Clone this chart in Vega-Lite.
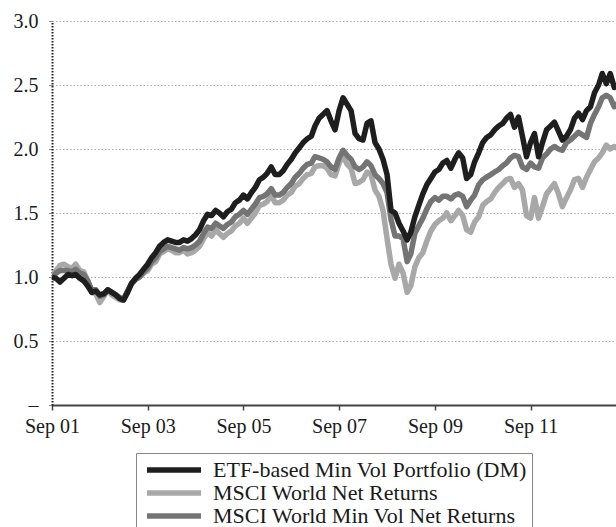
{
"$schema": "https://vega.github.io/schema/vega-lite/v6.json",
"width": 564, "height": 384,
"autosize": {"type": "none"},
"padding": {"left": 52, "top": 21, "right": 0, "bottom": 122},
"background": "white",
"config": {"view": {"stroke": null}, "font": "Liberation Serif"},
"data": {"values": [
{"d":"2001-09-01","world":1.00,"minvol":1.00,"etf":1.00},
{"d":"2001-10-01","world":1.05,"minvol":1.03,"etf":0.99},
{"d":"2001-11-01","world":1.09,"minvol":1.05,"etf":0.96},
{"d":"2001-12-01","world":1.10,"minvol":1.05,"etf":0.99},
{"d":"2002-01-01","world":1.08,"minvol":1.05,"etf":1.02},
{"d":"2002-02-01","world":1.07,"minvol":1.04,"etf":1.01},
{"d":"2002-03-01","world":1.10,"minvol":1.06,"etf":1.02},
{"d":"2002-04-01","world":1.05,"minvol":1.03,"etf":0.99},
{"d":"2002-05-01","world":1.04,"minvol":1.02,"etf":0.97},
{"d":"2002-06-01","world":0.97,"minvol":0.97,"etf":0.93},
{"d":"2002-07-01","world":0.88,"minvol":0.90,"etf":0.88},
{"d":"2002-08-01","world":0.87,"minvol":0.90,"etf":0.89},
{"d":"2002-09-01","world":0.80,"minvol":0.85,"etf":0.86},
{"d":"2002-10-01","world":0.85,"minvol":0.86,"etf":0.87},
{"d":"2002-11-01","world":0.90,"minvol":0.90,"etf":0.90},
{"d":"2002-12-01","world":0.86,"minvol":0.88,"etf":0.88},
{"d":"2003-01-01","world":0.84,"minvol":0.86,"etf":0.86},
{"d":"2003-02-01","world":0.82,"minvol":0.84,"etf":0.83},
{"d":"2003-03-01","world":0.82,"minvol":0.83,"etf":0.82},
{"d":"2003-04-01","world":0.89,"minvol":0.89,"etf":0.88},
{"d":"2003-05-01","world":0.95,"minvol":0.95,"etf":0.95},
{"d":"2003-06-01","world":0.98,"minvol":0.98,"etf":0.99},
{"d":"2003-07-01","world":1.00,"minvol":1.00,"etf":1.02},
{"d":"2003-08-01","world":1.03,"minvol":1.04,"etf":1.06},
{"d":"2003-09-01","world":1.05,"minvol":1.07,"etf":1.10},
{"d":"2003-10-01","world":1.10,"minvol":1.12,"etf":1.15},
{"d":"2003-11-01","world":1.12,"minvol":1.15,"etf":1.19},
{"d":"2003-12-01","world":1.18,"minvol":1.20,"etf":1.24},
{"d":"2004-01-01","world":1.20,"minvol":1.22,"etf":1.27},
{"d":"2004-02-01","world":1.22,"minvol":1.24,"etf":1.29},
{"d":"2004-03-01","world":1.21,"minvol":1.23,"etf":1.28},
{"d":"2004-04-01","world":1.19,"minvol":1.22,"etf":1.27},
{"d":"2004-05-01","world":1.19,"minvol":1.21,"etf":1.27},
{"d":"2004-06-01","world":1.21,"minvol":1.23,"etf":1.29},
{"d":"2004-07-01","world":1.18,"minvol":1.22,"etf":1.28},
{"d":"2004-08-01","world":1.19,"minvol":1.23,"etf":1.30},
{"d":"2004-09-01","world":1.21,"minvol":1.25,"etf":1.33},
{"d":"2004-10-01","world":1.24,"minvol":1.28,"etf":1.37},
{"d":"2004-11-01","world":1.30,"minvol":1.34,"etf":1.44},
{"d":"2004-12-01","world":1.35,"minvol":1.39,"etf":1.49},
{"d":"2005-01-01","world":1.32,"minvol":1.38,"etf":1.48},
{"d":"2005-02-01","world":1.37,"minvol":1.42,"etf":1.52},
{"d":"2005-03-01","world":1.34,"minvol":1.40,"etf":1.50},
{"d":"2005-04-01","world":1.31,"minvol":1.38,"etf":1.47},
{"d":"2005-05-01","world":1.34,"minvol":1.41,"etf":1.51},
{"d":"2005-06-01","world":1.36,"minvol":1.43,"etf":1.53},
{"d":"2005-07-01","world":1.40,"minvol":1.47,"etf":1.58},
{"d":"2005-08-01","world":1.42,"minvol":1.49,"etf":1.60},
{"d":"2005-09-01","world":1.46,"minvol":1.52,"etf":1.64},
{"d":"2005-10-01","world":1.42,"minvol":1.49,"etf":1.61},
{"d":"2005-11-01","world":1.46,"minvol":1.53,"etf":1.66},
{"d":"2005-12-01","world":1.50,"minvol":1.57,"etf":1.70},
{"d":"2006-01-01","world":1.56,"minvol":1.62,"etf":1.76},
{"d":"2006-02-01","world":1.57,"minvol":1.63,"etf":1.78},
{"d":"2006-03-01","world":1.59,"minvol":1.65,"etf":1.81},
{"d":"2006-04-01","world":1.64,"minvol":1.69,"etf":1.86},
{"d":"2006-05-01","world":1.58,"minvol":1.64,"etf":1.80},
{"d":"2006-06-01","world":1.58,"minvol":1.64,"etf":1.80},
{"d":"2006-07-01","world":1.60,"minvol":1.66,"etf":1.83},
{"d":"2006-08-01","world":1.64,"minvol":1.70,"etf":1.88},
{"d":"2006-09-01","world":1.66,"minvol":1.73,"etf":1.92},
{"d":"2006-10-01","world":1.71,"minvol":1.78,"etf":1.97},
{"d":"2006-11-01","world":1.73,"minvol":1.81,"etf":2.01},
{"d":"2006-12-01","world":1.77,"minvol":1.85,"etf":2.05},
{"d":"2007-01-01","world":1.80,"minvol":1.88,"etf":2.08},
{"d":"2007-02-01","world":1.81,"minvol":1.89,"etf":2.10},
{"d":"2007-03-01","world":1.86,"minvol":1.94,"etf":2.18},
{"d":"2007-04-01","world":1.87,"minvol":1.93,"etf":2.24},
{"d":"2007-05-01","world":1.87,"minvol":1.92,"etf":2.27},
{"d":"2007-06-01","world":1.85,"minvol":1.90,"etf":2.30},
{"d":"2007-07-01","world":1.80,"minvol":1.86,"etf":2.22},
{"d":"2007-08-01","world":1.79,"minvol":1.84,"etf":2.15},
{"d":"2007-09-01","world":1.89,"minvol":1.93,"etf":2.30},
{"d":"2007-10-01","world":1.95,"minvol":1.99,"etf":2.40},
{"d":"2007-11-01","world":1.88,"minvol":1.95,"etf":2.35},
{"d":"2007-12-01","world":1.85,"minvol":1.92,"etf":2.30},
{"d":"2008-01-01","world":1.73,"minvol":1.86,"etf":2.12},
{"d":"2008-02-01","world":1.74,"minvol":1.84,"etf":2.08},
{"d":"2008-03-01","world":1.76,"minvol":1.86,"etf":2.07},
{"d":"2008-04-01","world":1.82,"minvol":1.90,"etf":2.20},
{"d":"2008-05-01","world":1.80,"minvol":1.87,"etf":2.22},
{"d":"2008-06-01","world":1.68,"minvol":1.80,"etf":2.05},
{"d":"2008-07-01","world":1.63,"minvol":1.77,"etf":2.00},
{"d":"2008-08-01","world":1.52,"minvol":1.73,"etf":1.92},
{"d":"2008-09-01","world":1.30,"minvol":1.66,"etf":1.80},
{"d":"2008-10-01","world":1.10,"minvol":1.45,"etf":1.52},
{"d":"2008-11-01","world":0.99,"minvol":1.32,"etf":1.50},
{"d":"2008-12-01","world":1.10,"minvol":1.32,"etf":1.42},
{"d":"2009-01-01","world":1.03,"minvol":1.30,"etf":1.36},
{"d":"2009-02-01","world":0.88,"minvol":1.12,"etf":1.29},
{"d":"2009-03-01","world":0.93,"minvol":1.18,"etf":1.35},
{"d":"2009-04-01","world":1.08,"minvol":1.34,"etf":1.47},
{"d":"2009-05-01","world":1.15,"minvol":1.40,"etf":1.56},
{"d":"2009-06-01","world":1.19,"minvol":1.46,"etf":1.65},
{"d":"2009-07-01","world":1.28,"minvol":1.53,"etf":1.72},
{"d":"2009-08-01","world":1.36,"minvol":1.59,"etf":1.77},
{"d":"2009-09-01","world":1.41,"minvol":1.62,"etf":1.82},
{"d":"2009-10-01","world":1.44,"minvol":1.60,"etf":1.84},
{"d":"2009-11-01","world":1.46,"minvol":1.63,"etf":1.89},
{"d":"2009-12-01","world":1.50,"minvol":1.63,"etf":1.91},
{"d":"2010-01-01","world":1.44,"minvol":1.61,"etf":1.85},
{"d":"2010-02-01","world":1.48,"minvol":1.64,"etf":1.92},
{"d":"2010-03-01","world":1.52,"minvol":1.65,"etf":1.97},
{"d":"2010-04-01","world":1.48,"minvol":1.63,"etf":1.93},
{"d":"2010-05-01","world":1.37,"minvol":1.55,"etf":1.77},
{"d":"2010-06-01","world":1.35,"minvol":1.60,"etf":1.80},
{"d":"2010-07-01","world":1.43,"minvol":1.64,"etf":1.90},
{"d":"2010-08-01","world":1.47,"minvol":1.72,"etf":1.97},
{"d":"2010-09-01","world":1.56,"minvol":1.76,"etf":2.05},
{"d":"2010-10-01","world":1.59,"minvol":1.78,"etf":2.09},
{"d":"2010-11-01","world":1.61,"minvol":1.80,"etf":2.11},
{"d":"2010-12-01","world":1.66,"minvol":1.82,"etf":2.15},
{"d":"2011-01-01","world":1.70,"minvol":1.84,"etf":2.18},
{"d":"2011-02-01","world":1.73,"minvol":1.87,"etf":2.20},
{"d":"2011-03-01","world":1.76,"minvol":1.89,"etf":2.24},
{"d":"2011-04-01","world":1.77,"minvol":1.93,"etf":2.27},
{"d":"2011-05-01","world":1.70,"minvol":1.95,"etf":2.17},
{"d":"2011-06-01","world":1.73,"minvol":1.94,"etf":2.25},
{"d":"2011-07-01","world":1.68,"minvol":1.86,"etf":2.10},
{"d":"2011-08-01","world":1.48,"minvol":1.84,"etf":1.94},
{"d":"2011-09-01","world":1.46,"minvol":1.89,"etf":2.05},
{"d":"2011-10-01","world":1.62,"minvol":1.86,"etf":2.12},
{"d":"2011-11-01","world":1.46,"minvol":1.85,"etf":1.94},
{"d":"2011-12-01","world":1.55,"minvol":1.93,"etf":2.05},
{"d":"2012-01-01","world":1.65,"minvol":1.96,"etf":2.15},
{"d":"2012-02-01","world":1.69,"minvol":2.00,"etf":2.18},
{"d":"2012-03-01","world":1.73,"minvol":2.02,"etf":2.21},
{"d":"2012-04-01","world":1.65,"minvol":2.00,"etf":2.14},
{"d":"2012-05-01","world":1.55,"minvol":1.99,"etf":2.07},
{"d":"2012-06-01","world":1.62,"minvol":2.05,"etf":2.10},
{"d":"2012-07-01","world":1.68,"minvol":2.07,"etf":2.15},
{"d":"2012-08-01","world":1.76,"minvol":2.10,"etf":2.24},
{"d":"2012-09-01","world":1.77,"minvol":2.13,"etf":2.28},
{"d":"2012-10-01","world":1.70,"minvol":2.11,"etf":2.23},
{"d":"2012-11-01","world":1.78,"minvol":2.09,"etf":2.30},
{"d":"2012-12-01","world":1.84,"minvol":2.20,"etf":2.33},
{"d":"2013-01-01","world":1.90,"minvol":2.27,"etf":2.44},
{"d":"2013-02-01","world":1.93,"minvol":2.33,"etf":2.50},
{"d":"2013-03-01","world":1.97,"minvol":2.40,"etf":2.59},
{"d":"2013-04-01","world":2.03,"minvol":2.42,"etf":2.51},
{"d":"2013-05-01","world":2.00,"minvol":2.40,"etf":2.59},
{"d":"2013-06-01","world":2.02,"minvol":2.33,"etf":2.48},
{"d":"2013-07-01","world":2.00,"minvol":2.36,"etf":2.50}
]},
"transform": [{"fold": ["world", "minvol", "etf"], "as": ["series", "value"]}],
"mark": {"type": "line", "strokeWidth": 5.5, "clip": true, "strokeJoin": "round"},
"encoding": {
  "x": {"field": "d", "type": "temporal",
    "scale": {"type": "utc", "domain": [{"year": 2001, "month": 9, "date": 1, "utc": true}, {"year": 2013, "month": 6, "date": 14, "utc": true}]},
    "axis": {"title": null, "format": "%b %y",
      "values": [{"year": 2001, "month": 9, "date": 1, "utc": true}, {"year": 2003, "month": 9, "date": 1, "utc": true}, {"year": 2005, "month": 9, "date": 1, "utc": true}, {"year": 2007, "month": 9, "date": 1, "utc": true}, {"year": 2009, "month": 9, "date": 1, "utc": true}, {"year": 2011, "month": 9, "date": 1, "utc": true}],
      "grid": false, "labelFontSize": 20, "labelFont": "Liberation Serif", "labelColor": "#1a1a1a",
      "domainColor": "#444", "domainWidth": 2, "tickColor": "#444", "tickWidth": 1.5, "tickSize": 5, "labelPadding": 6, "labelFlush": false}},
  "y": {"field": "value", "type": "quantitative",
    "scale": {"domain": [0, 3], "nice": false},
    "axis": {"title": null, "values": [0, 0.5, 1, 1.5, 2, 2.5, 3],
      "labelExpr": "datum.value == 0 ? '–' : format(datum.value, '.1f')",
      "labelFontSize": 20, "labelFont": "Liberation Serif", "labelColor": "#1a1a1a",
      "grid": true, "gridColor": "#aaaaaa", "gridDash": [1.5, 2], "gridWidth": 1.2,
      "domainColor": "#222", "domainDash": [1.5, 1.5], "domainWidth": 2,
      "tickColor": "#222", "tickSize": 4, "tickDash": [1, 1], "labelPadding": 10}},
  "color": {"field": "series", "type": "nominal",
    "scale": {"domain": ["etf", "world", "minvol"], "range": ["#1e1e1e", "#a8a8a8", "#747474"]},
    "legend": {"orient": "none", "legendX": 84, "legendY": 432, "title": null,
      "labelExpr": "datum.label == 'etf' ? 'ETF-based Min Vol Portfolio (DM)' : datum.label == 'world' ? 'MSCI World Net Returns' : 'MSCI World Min Vol Net Returns'",
      "labelFontSize": 22, "labelFont": "Liberation Serif", "labelColor": "#1a1a1a", "labelLimit": 0,
      "symbolType": "M-3,0H3", "symbolSize": 324, "symbolStrokeWidth": 5.5,
      "symbolOffset": 21, "labelOffset": 27, "padding": 5, "rowPadding": -6,
      "strokeColor": "#888", "fillColor": "white"}}
}
}
